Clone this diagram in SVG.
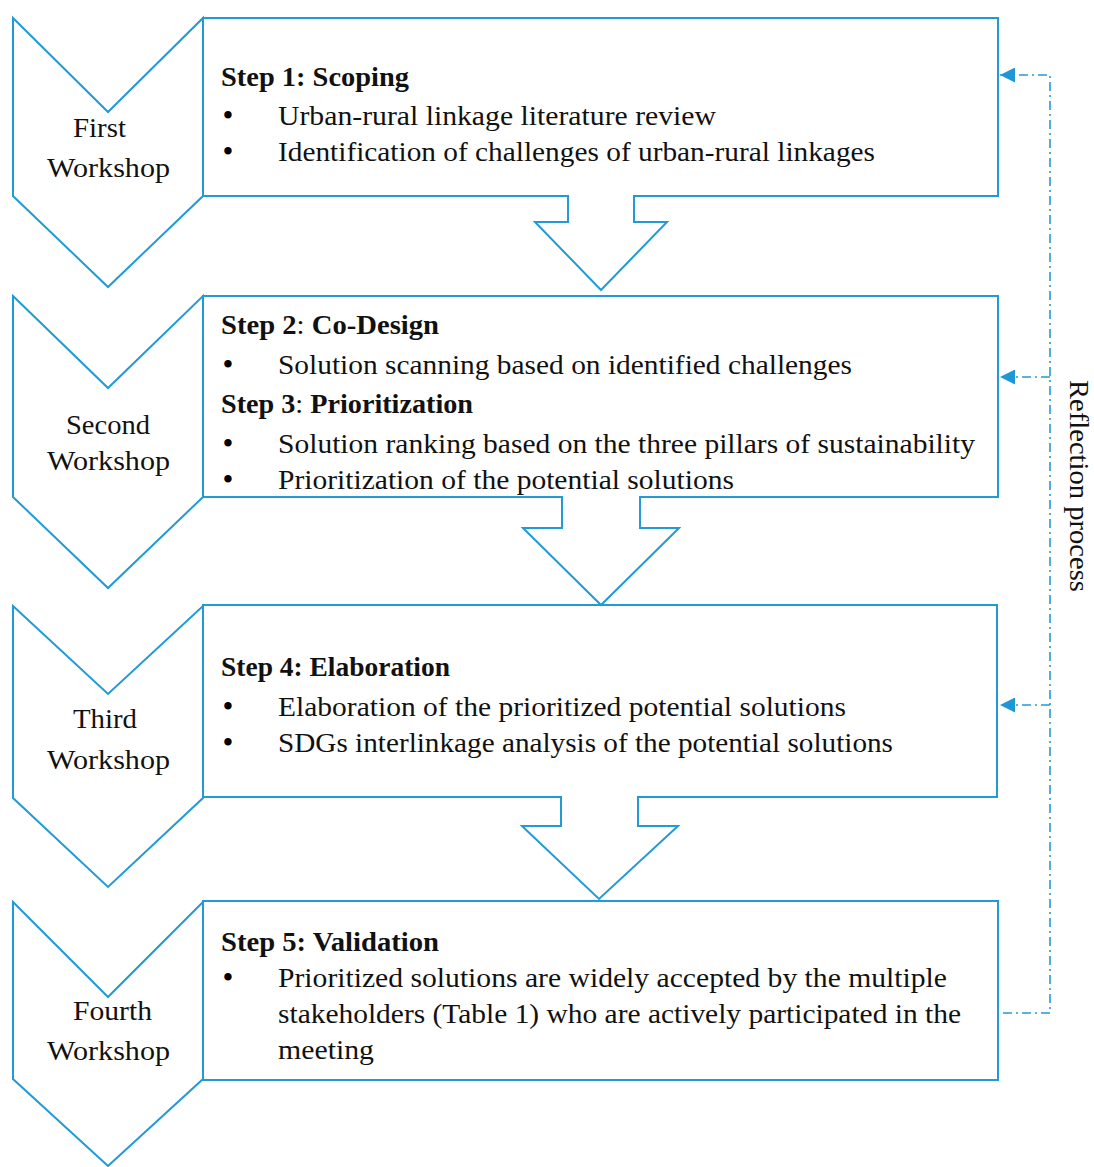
<svg xmlns="http://www.w3.org/2000/svg" width="1094" height="1167" viewBox="0 0 1094 1167">
<defs>
<style>
.shape{fill:#fff;stroke:#229ad6;stroke-width:2;stroke-linejoin:miter}
.gap{stroke:#fff;stroke-width:3}
.t{font-family:"Liberation Serif","Times New Roman",serif;font-size:27px;fill:#111}
.bl{font-family:"Liberation Serif","Times New Roman",serif;font-size:31px;fill:#000;text-anchor:middle}
.b{font-weight:bold}
.lbl{text-anchor:middle}
.refl{fill:none;stroke:#229ad6;stroke-width:1.6;stroke-dasharray:9 4 2 4}
</style>
<marker id="ah" viewBox="0 0 10 10" refX="10" refY="5" markerWidth="16" markerHeight="15" markerUnits="userSpaceOnUse" orient="auto">
<path d="M0,0 L10,5 L0,10 Z" fill="#1f97d6"/>
</marker>
</defs>
<rect width="1094" height="1167" fill="#fff"/>

<g id="workshop1">
<path class="shape" d="M13,18 L108,112 L203,18 L203,196 L108,287 L13,196 Z"/>
<text class="t lbl" x="99.5" y="137" textLength="53" lengthAdjust="spacingAndGlyphs">First</text>
<text class="t lbl" x="108.5" y="177" textLength="123" lengthAdjust="spacingAndGlyphs">Workshop</text>
</g>
<g id="step1">
<rect class="shape" x="203" y="18" width="795" height="178"/>
<text class="t b" x="221" y="86" textLength="188" lengthAdjust="spacingAndGlyphs">Step 1: Scoping</text>
<text class="bl" x="228" y="126">•</text><text class="t" x="278" y="125" textLength="438" lengthAdjust="spacingAndGlyphs">Urban-rural linkage literature review</text>
<text class="bl" x="228" y="162">•</text><text class="t" x="278" y="161" textLength="597" lengthAdjust="spacingAndGlyphs">Identification of challenges of urban-rural linkages</text>
</g>

<g id="workshop2">
<path class="shape" d="M13,296 L108,388 L203,296 L203,497 L108,588 L13,497 Z"/>
<text class="t lbl" x="108" y="434" textLength="84" lengthAdjust="spacingAndGlyphs">Second</text>
<text class="t lbl" x="108.5" y="470" textLength="123" lengthAdjust="spacingAndGlyphs">Workshop</text>
</g>
<g id="step2">
<rect class="shape" x="203" y="296" width="795" height="201"/>
<text class="t" x="221" y="334" textLength="218" lengthAdjust="spacingAndGlyphs"><tspan class="b">Step 2</tspan>: <tspan class="b">Co-Design</tspan></text>
<text class="bl" x="228" y="375">•</text><text class="t" x="278" y="374" textLength="574" lengthAdjust="spacingAndGlyphs">Solution scanning based on identified challenges</text>
<text class="t" x="221" y="413" textLength="252" lengthAdjust="spacingAndGlyphs"><tspan class="b">Step 3</tspan>: <tspan class="b">Prioritization</tspan></text>
<text class="bl" x="228" y="454">•</text><text class="t" x="278" y="453" textLength="697" lengthAdjust="spacingAndGlyphs">Solution ranking based on the three pillars of sustainability</text>
<text class="bl" x="228" y="490">•</text><text class="t" x="278" y="489" textLength="456" lengthAdjust="spacingAndGlyphs">Prioritization of the potential solutions</text>
</g>

<g id="workshop3">
<path class="shape" d="M13,606 L108,694 L203,606 L203,798 L108,887 L13,798 Z"/>
<text class="t lbl" x="105" y="728" textLength="64" lengthAdjust="spacingAndGlyphs">Third</text>
<text class="t lbl" x="108.5" y="769" textLength="123" lengthAdjust="spacingAndGlyphs">Workshop</text>
</g>
<g id="step4">
<rect class="shape" x="203" y="605" width="794" height="192"/>
<text class="t b" x="221" y="676" textLength="229" lengthAdjust="spacingAndGlyphs">Step 4: Elaboration</text>
<text class="bl" x="228" y="717">•</text><text class="t" x="278" y="716" textLength="568" lengthAdjust="spacingAndGlyphs">Elaboration of the prioritized potential solutions</text>
<text class="bl" x="228" y="753">•</text><text class="t" x="278" y="752" textLength="615" lengthAdjust="spacingAndGlyphs">SDGs interlinkage analysis of the potential solutions</text>
</g>

<g id="workshop4">
<path class="shape" d="M13,902 L108,997 L203,902 L203,1079 L108,1166 L13,1079 Z"/>
<text class="t lbl" x="112.5" y="1020" textLength="79" lengthAdjust="spacingAndGlyphs">Fourth</text>
<text class="t lbl" x="108.5" y="1060" textLength="123" lengthAdjust="spacingAndGlyphs">Workshop</text>
</g>
<g id="step5">
<rect class="shape" x="203" y="901" width="795" height="179"/>
<text class="t b" x="221" y="951" textLength="218" lengthAdjust="spacingAndGlyphs">Step 5: Validation</text>
<text class="bl" x="228" y="988">•</text><text class="t" x="278" y="987" textLength="669" lengthAdjust="spacingAndGlyphs">Prioritized solutions are widely accepted by the multiple</text>
<text class="t" x="278" y="1023" textLength="683" lengthAdjust="spacingAndGlyphs">stakeholders (Table 1) who are actively participated in the</text>
<text class="t" x="278" y="1059" textLength="96" lengthAdjust="spacingAndGlyphs">meeting</text>
</g>

<g id="connectors">
<line class="gap" x1="569" y1="196" x2="633" y2="196"/>
<path class="shape" d="M568,196 V222 H535 L601,290 L667,222 H634 V196"/>
<line class="gap" x1="563" y1="497" x2="639" y2="497"/>
<path class="shape" d="M562,497 V528 H523 L601,605 L679,528 H640 V497"/>
<line class="gap" x1="562" y1="797" x2="637" y2="797"/>
<path class="shape" d="M561,797 V826 H522 L599,899 L678,826 H638 V797"/>
<path class="refl" d="M1003,1013 H1050 V75 H1000" marker-end="url(#ah)"/>
<path class="refl" d="M1050,377 H1000" marker-end="url(#ah)"/>
<path class="refl" d="M1050,705 H1000" marker-end="url(#ah)"/>
<text class="t" text-anchor="middle" transform="translate(1070,486) rotate(90)" textLength="212" lengthAdjust="spacingAndGlyphs">Reflection process</text>
</g>
</svg>
